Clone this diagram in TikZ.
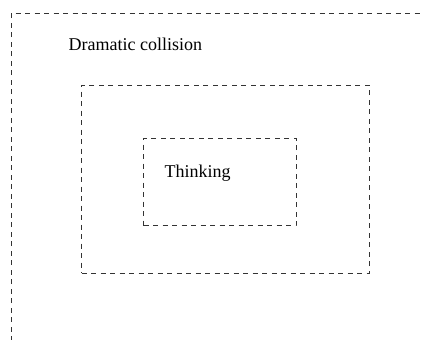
\documentclass[tikz,border=0pt]{standalone}
\usepackage{fontspec}
\setmainfont{Liberation Serif}
\begin{document}
\begin{tikzpicture}[x=1pt,y=-1pt,
  frame/.style={draw=black!80,line width=0.9pt,dash pattern=on 5pt off 4.5pt},
  box/.style={frame,inner sep=0pt,outer sep=0pt},
  lbl/.style={anchor=base west,inner sep=0pt,font=\fontsize{18}{21}\selectfont}]
\useasboundingbox (0,0) rectangle (424,340);
\begin{scope}
\clip (0,0) rectangle (424,340);
\draw[frame] (11,360) -- (11,13) -- (440,13);
\end{scope}
\node[box,minimum width=287.5pt,minimum height=188pt] (mid) at (225.25,179) {};
\node[box,minimum width=152.5pt,minimum height=87.5pt] (inner) at (219.75,181.75) {};
\node[lbl] (dc) at (68.5,50.5) {Dramatic collision};
\node[lbl] (th) at (164.5,177) {Thinking};
\end{tikzpicture}
\end{document}
